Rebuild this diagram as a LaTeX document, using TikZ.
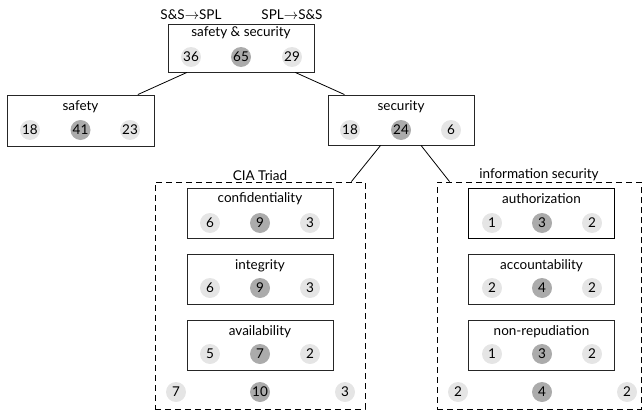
\documentclass[tikz,border=0pt]{standalone}
\usepackage{fontspec}
\setmainfont{Lato}
\begin{document}
\begin{tikzpicture}[x=1pt,y=-1pt,
    every node/.style={font=\fontsize{13.5}{16}\selectfont},
    cat/.style={draw=black!85,line width=0.9pt,minimum width=146pt,minimum height=50pt,inner sep=0pt},
    side/.style={circle,fill=black!10,minimum size=20pt,inner sep=0pt},
    mid/.style={circle,fill=black!33,minimum size=20pt,inner sep=0pt},
    group/.style={draw,dash pattern=on 6pt off 4pt,line width=0.8pt,inner sep=0pt}]
      \useasboundingbox (0,0) rectangle (642,412);
      % levels 0 and 1
      \node (dir1) at (191,15) {S\&S$\rightarrow$SPL};
      \node (dir2) at (292,15) {SPL$\rightarrow$S\&S};
      \node[cat,minimum height=48pt] (ss) at (241,48) {};
      \node (ss-t) at (241,33) {safety \& security};
      \node[side] (ss-l) at (191,57) {36};
      \node[mid] (ss-m) at (241,57) {65};
      \node[side] (ss-r) at (292,57) {29};
      \node[cat,minimum width=147pt,minimum height=51pt] (saf) at (80.5,120.5) {};
      \node (saf-t) at (80.5,107) {safety};
      \node[side] (saf-l) at (30,130) {18};
      \node[mid] (saf-m) at (80.5,130) {41};
      \node[side] (saf-r) at (130,130) {23};
      \node[cat] (sec) at (401,120) {};
      \node (sec-t) at (401,107) {security};
      \node[side] (sec-l) at (350,130) {18};
      \node[mid] (sec-m) at (401,130) {24};
      \node[side] (sec-r) at (451,130) {6};
      % CIA triad
      \node[group,minimum width=210pt,minimum height=227pt,label={[font=\fontsize{13.5}{16}\selectfont,inner sep=1pt]above:CIA Triad}] (cia) at (260,295.5) {};
      \node[cat] (conf) at (260,213) {};
      \node (conf-t) at (260,199) {confidentiality};
      \node[side] (conf-l) at (210,223) {6};
      \node[mid] (conf-m) at (260,223) {9};
      \node[side] (conf-r) at (310,223) {3};
      \node[cat] (int) at (260,279.5) {};
      \node (int-t) at (260,266) {integrity};
      \node[side] (int-l) at (210,288) {6};
      \node[mid] (int-m) at (260,288) {9};
      \node[side] (int-r) at (310,288) {3};
      \node[cat] (avail) at (260,345.5) {};
      \node (avail-t) at (260,332) {availability};
      \node[side] (avail-l) at (210,354) {5};
      \node[mid] (avail-m) at (260,354) {7};
      \node[side] (avail-r) at (310,354) {2};
      \node[side] (cia-l) at (176,392) {7};
      \node[mid] (cia-m) at (260,392) {10};
      \node[side] (cia-r) at (345,392) {3};
      % information security
      \node[group,minimum width=204pt,minimum height=227pt,label={[font=\fontsize{13.5}{16}\selectfont,inner sep=1pt]above:information security}] (info) at (539,295.5) {};
      \node[cat,draw=black,line width=1.4pt] (auth) at (541.5,213.5) {};
      \node (auth-t) at (541.5,199) {authorization};
      \node[side] (auth-l) at (492,223) {1};
      \node[mid] (auth-m) at (542,223) {3};
      \node[side] (auth-r) at (592,223) {2};
      \node[cat] (acc) at (541.5,279.5) {};
      \node (acc-t) at (541.5,266) {accountability};
      \node[side] (acc-l) at (492,288) {2};
      \node[mid] (acc-m) at (542,288) {4};
      \node[side] (acc-r) at (592,288) {2};
      \node[cat] (nonrep) at (541.5,345.5) {};
      \node (nonrep-t) at (541.5,332) {non-repudiation};
      \node[side] (nonrep-l) at (492,354) {1};
      \node[mid] (nonrep-m) at (542,354) {3};
      \node[side] (nonrep-r) at (592,354) {2};
      \node[side] (info-l) at (458,392) {2};
      \node[mid] (info-m) at (542,392) {4};
      \node[side] (info-r) at (627,392) {2};
      \begin{scope}[-,line width=0.8pt]
        \draw (ss) to (saf);
        \draw (ss) to (sec);
        \draw (sec) to (cia);
        \draw (sec) to (info);
      \end{scope}
    \end{tikzpicture}
\end{document}
